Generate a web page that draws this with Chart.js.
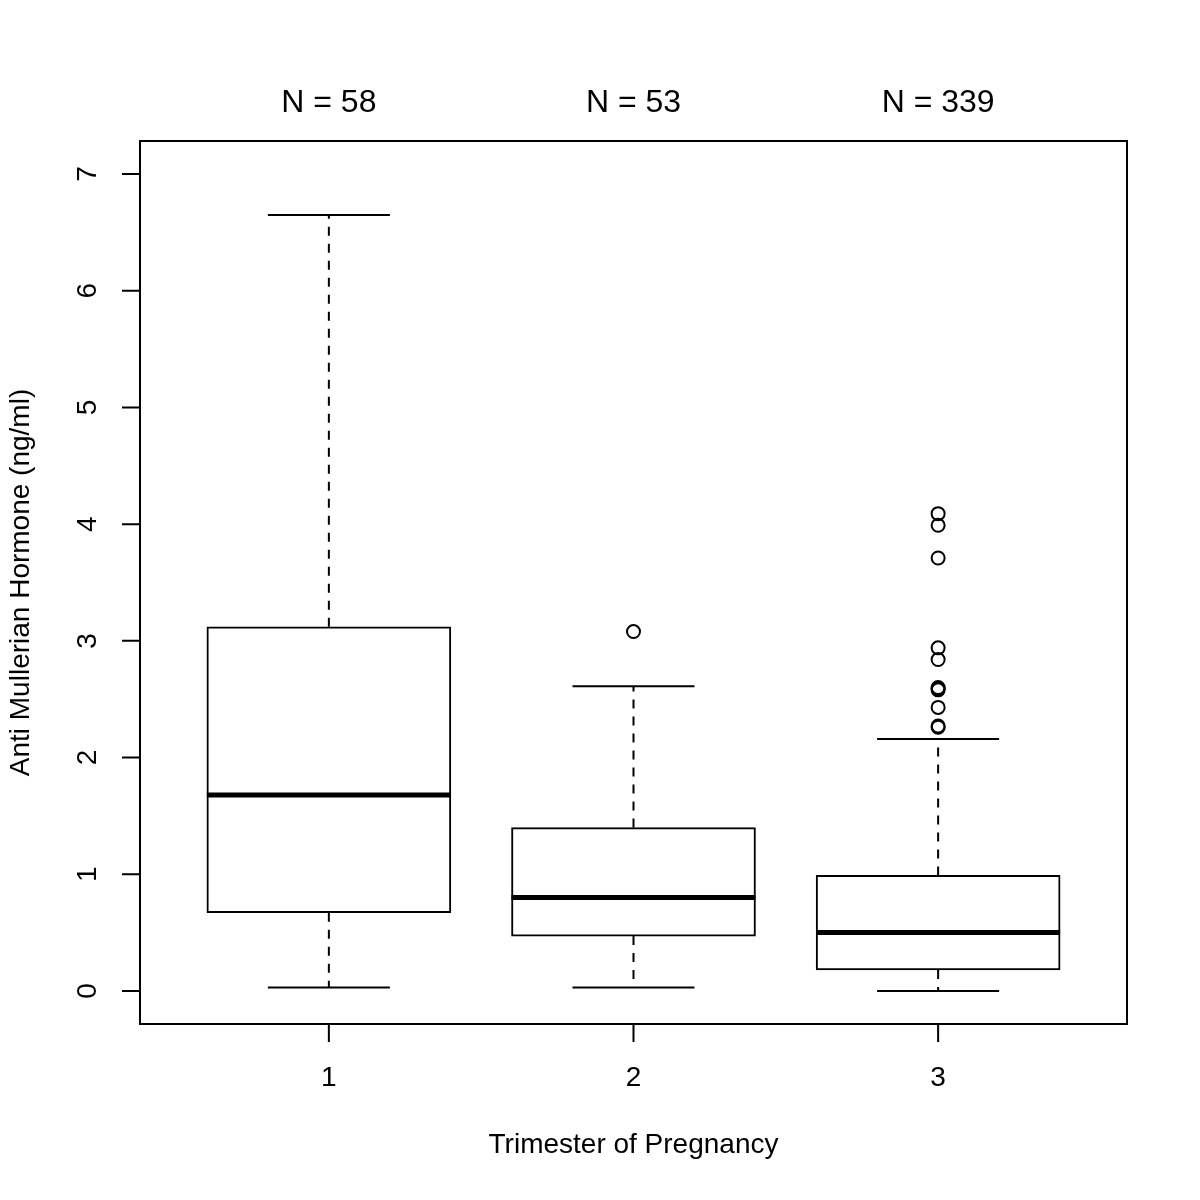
<!DOCTYPE html>
<html>
<head>
<meta charset="utf-8">
<title>AMH by trimester</title>
<script src="https://cdn.jsdelivr.net/npm/chart.js@4"></script>
<style>
    html, body { margin: 0; padding: 0; background: #fff; }
    #wrap { width: 1200px; height: 1200px; }
</style>
</head>
<body>
<div id="wrap"><canvas id="boxChart" width="1200" height="1200"></canvas></div>
<script>
// ===== DATA =====
const groups = [1, 2, 3];
const nCounts = [58, 53, 339];
const whiskerLow = [0.03, 0.03, 0.0];
const q1 = [0.67, 0.47, 0.18];
const median = [1.68, 0.80, 0.50];
const q3 = [3.12, 1.40, 0.99];
const whiskerHigh = [6.65, 2.61, 2.16];
const outliers1 = [];
const outliers2 = [3.08];
const outliers3 = [4.09, 3.99, 3.71, 2.94, 2.84, 2.60, 2.59, 2.58, 2.43, 2.27, 2.26];
const yTicks = [0, 1, 2, 3, 4, 5, 6, 7];
const xTickLabels = ['1', '2', '3'];
const xTitle = 'Trimester of Pregnancy';
const yTitle = 'Anti Mullerian Hormone (ng/ml)';

const FAMILY = '"Liberation Sans", Arial, Helvetica, sans-serif';
const FONT = '28px ' + FAMILY;
const FONT_N = '32px ' + FAMILY;

// points for outliers
const outlierPoints = [];
[outliers1, outliers2, outliers3].forEach((list, i) => {
    list.forEach(v => outlierPoints.push({ x: groups[i], y: v }));
});

// ===== custom drawing: whiskers, medians, frame, axes, text =====
const boxExtras = {
    id: 'boxExtras',
    afterDatasetsDraw(chart) {
        const ctx = chart.ctx;
        const xs = chart.scales.x;
        const ys = chart.scales.y;
        const bars = chart.getDatasetMeta(0).data;
        ctx.save();
        groups.forEach((g, i) => {
            const cx = xs.getPixelForValue(g);
            const half = bars[i] ? bars[i].width / 2 : 122;
            // dashed whiskers
            ctx.strokeStyle = '#000';
            ctx.lineWidth = 2;
            ctx.setLineDash([9, 8]);
            ctx.beginPath();
            ctx.moveTo(cx, ys.getPixelForValue(q3[i]));
            ctx.lineTo(cx, ys.getPixelForValue(whiskerHigh[i]));
            ctx.moveTo(cx, ys.getPixelForValue(q1[i]));
            ctx.lineTo(cx, ys.getPixelForValue(whiskerLow[i]));
            ctx.stroke();
            ctx.setLineDash([]);
            // caps
            ctx.beginPath();
            ctx.moveTo(cx - half / 2, ys.getPixelForValue(whiskerHigh[i]));
            ctx.lineTo(cx + half / 2, ys.getPixelForValue(whiskerHigh[i]));
            ctx.moveTo(cx - half / 2, ys.getPixelForValue(whiskerLow[i]));
            ctx.lineTo(cx + half / 2, ys.getPixelForValue(whiskerLow[i]));
            ctx.stroke();
            // median
            ctx.lineWidth = 5;
            ctx.beginPath();
            ctx.moveTo(cx - half, ys.getPixelForValue(median[i]));
            ctx.lineTo(cx + half, ys.getPixelForValue(median[i]));
            ctx.stroke();
        });
        ctx.restore();
    },
    afterDraw(chart) {
        const ctx = chart.ctx;
        const xs = chart.scales.x;
        const ys = chart.scales.y;
        const area = chart.chartArea;
        ctx.save();
        ctx.strokeStyle = '#000';
        ctx.lineWidth = 2;
        // frame
        ctx.strokeRect(area.left, area.top, area.right - area.left, area.bottom - area.top);

        ctx.fillStyle = '#000';
        ctx.textAlign = 'center';
        ctx.textBaseline = 'middle';

        // x axis ticks + labels
        ctx.beginPath();
        ctx.moveTo(xs.getPixelForValue(groups[0]), area.bottom);
        ctx.lineTo(xs.getPixelForValue(groups[groups.length - 1]), area.bottom);
        groups.forEach(g => {
            const px = xs.getPixelForValue(g);
            ctx.moveTo(px, area.bottom);
            ctx.lineTo(px, area.bottom + 18);
        });
        ctx.stroke();
        groups.forEach((g, i) => {
            const px = xs.getPixelForValue(g);
            ctx.font = FONT;
            ctx.fillText(xTickLabels[i], px, 1078);
            ctx.font = FONT_N;
            ctx.fillText('N = ' + nCounts[i], px, 103);
        });
        ctx.font = FONT;
        ctx.fillText(xTitle, (area.left + area.right) / 2, 1145);

        // y axis ticks + rotated labels
        ctx.beginPath();
        ctx.moveTo(area.left, ys.getPixelForValue(yTicks[0]));
        ctx.lineTo(area.left, ys.getPixelForValue(yTicks[yTicks.length - 1]));
        yTicks.forEach(t => {
            const py = ys.getPixelForValue(t);
            ctx.moveTo(area.left, py);
            ctx.lineTo(area.left - 18, py);
        });
        ctx.stroke();
        yTicks.forEach(t => {
            const py = ys.getPixelForValue(t);
            ctx.save();
            ctx.translate(88, py);
            ctx.rotate(-Math.PI / 2);
            ctx.fillText(String(t), 0, 0);
            ctx.restore();
        });
        ctx.save();
        ctx.translate(21, (area.top + area.bottom) / 2);
        ctx.rotate(-Math.PI / 2);
        ctx.fillText(yTitle, 0, 0);
        ctx.restore();

        ctx.restore();
    }
};

const ctx = document.getElementById('boxChart');
new Chart(ctx, {
    data: {
        datasets: [
            {
                type: 'bar',
                label: 'IQR',
                data: groups.map((g, i) => ({ x: g, y: [q1[i], q3[i]] })),
                backgroundColor: '#ffffff',
                borderColor: '#000000',
                borderWidth: 2,
                borderSkipped: false,
                barThickness: 244
            },
            {
                type: 'scatter',
                label: 'Outliers',
                data: outlierPoints,
                pointStyle: 'circle',
                pointRadius: 6.5,
                pointBorderWidth: 2,
                pointBackgroundColor: 'rgba(0,0,0,0)',
                pointBorderColor: '#000000'
            }
        ]
    },
    options: {
        responsive: false,
        devicePixelRatio: 1,
        animation: false,
        layout: {
            padding: { left: 140, top: 141, right: 73, bottom: 176 }
        },
        plugins: {
            legend: { display: false },
            tooltip: { enabled: false }
        },
        scales: {
            x: {
                type: 'linear',
                display: false,
                offset: false,
                min: 0.38,
                max: 3.62
            },
            y: {
                type: 'linear',
                display: false,
                min: -0.283,
                max: 7.283
            }
        }
    },
    plugins: [boxExtras]
});
</script>
</body>
</html>
